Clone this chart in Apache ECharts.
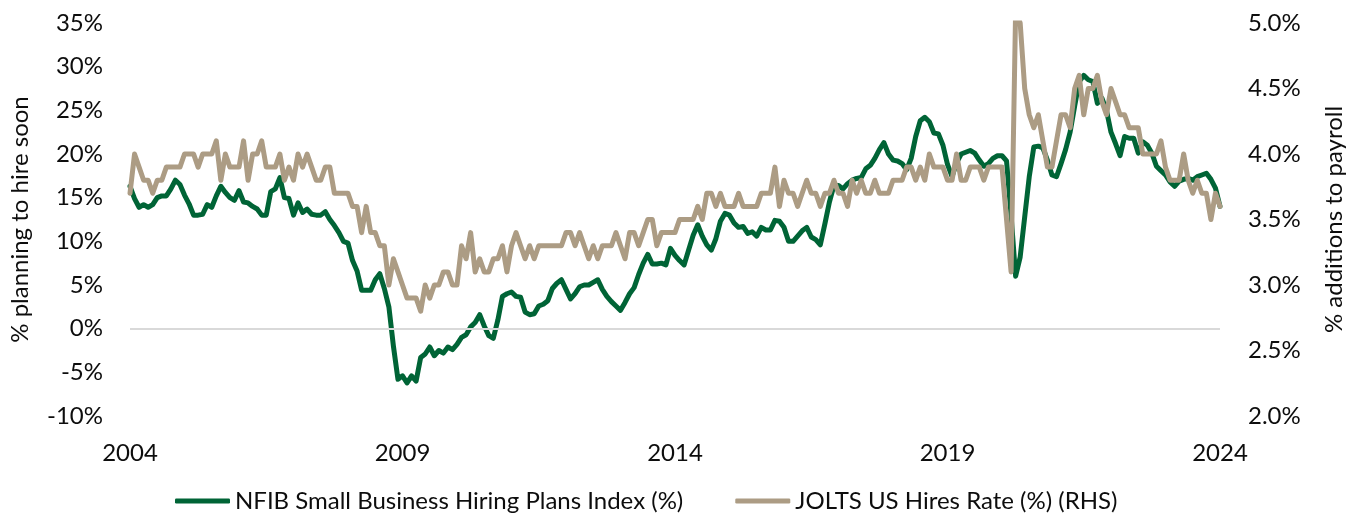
<!DOCTYPE html>
<html><head><meta charset="utf-8">
<script src="https://cdn.jsdelivr.net/npm/echarts@6/dist/echarts.min.js"></script>
<style>html,body{margin:0;padding:0;background:#fff}#chart{width:1354px;height:519px}</style>
</head><body><div id="chart"></div>
<script>
// Monthly categories Jan 2004 .. Jan 2024
const months = [];
for (let y = 2004; y <= 2024; y++) {
  for (let m = 1; m <= 12; m++) {
    if (y === 2024 && m > 1) break;
    months.push(y + '-' + String(m).padStart(2, '0'));
  }
}
const yearTicks = ['2004', '2009', '2014', '2019', '2024'];
const seriesNames = ['NFIB Small Business Hiring Plans Index (%)', 'JOLTS US Hires Rate (%) (RHS)'];

// NFIB hiring plans (%), left axis
const nfibHiringPlans = [
 16.3,14.9,13.9,14.2,13.9,14.2,15.0,15.2,15.2,16.0,17.0,16.5,
 15.3,14.3,13.0,13.0,13.1,14.2,13.9,15.2,16.3,15.6,15.0,14.7,
 15.8,14.5,14.4,14.0,13.7,13.0,13.0,15.7,16.0,17.3,15.0,14.9,
 13.0,14.4,13.3,13.7,13.1,13.0,13.0,13.4,12.5,11.8,11.0,10.0,
 9.8,7.8,6.6,4.4,4.4,4.4,5.6,6.3,4.6,2.5,-2.0,-5.8,
 -5.4,-6.2,-5.4,-6.0,-3.3,-2.9,-2.1,-3.1,-2.5,-2.8,-2.1,-2.4,
 -1.8,-1.0,-0.7,0.2,0.7,1.6,0.3,-0.8,-1.1,1.0,3.7,4.0,
 4.2,3.7,3.6,1.9,1.6,1.7,2.6,2.8,3.2,4.6,5.2,5.6,
 4.5,3.4,4.0,4.8,5.0,5.0,5.3,5.6,4.5,3.7,3.1,2.6,
 2.1,3.0,4.0,4.7,6.2,7.5,8.5,7.4,7.4,7.5,7.3,9.2,
 8.4,7.8,7.3,9.0,10.7,11.9,10.6,9.6,9.0,10.3,12.3,13.2,
 13.0,12.1,11.6,11.7,10.9,11.1,10.6,11.6,11.3,11.3,12.4,12.3,
 11.6,10.0,10.0,10.6,11.2,11.6,10.5,10.2,9.6,12.0,14.5,16.4,
 16.4,16.0,16.6,17.0,17.2,17.3,18.3,18.7,19.5,20.5,21.3,20.0,
 19.3,19.2,18.9,18.2,19.5,22.0,23.8,24.2,23.7,22.4,22.3,21.0,
 18.8,17.4,19.0,20.0,20.2,20.4,20.1,19.3,18.6,18.9,19.5,19.8,
 19.8,19.2,13.0,6.0,8.2,12.8,17.4,20.8,20.9,20.7,19.3,17.6,
 17.4,18.9,20.5,22.5,25.5,28.3,29.0,28.5,28.3,25.8,26.4,25.0,
 22.5,21.2,19.8,22.0,21.8,21.8,20.1,21.4,21.0,20.1,18.6,18.1,
 17.6,16.8,16.3,16.9,17.1,17.2,17.0,17.4,17.6,17.8,17.1,16.1,
 14.0
];

// JOLTS hires rate (%), right axis
const joltsHiresRate = [
 3.7,4.0,3.9,3.8,3.8,3.7,3.8,3.8,3.9,3.9,3.9,3.9,
 4.0,4.0,4.0,3.9,4.0,4.0,4.0,4.1,3.8,4.0,3.9,3.9,
 3.9,4.1,3.8,4.0,4.0,4.1,3.9,3.9,3.9,4.0,3.8,3.9,
 3.8,4.0,3.9,4.0,3.9,3.8,3.8,3.9,3.9,3.7,3.7,3.7,
 3.7,3.6,3.6,3.4,3.6,3.4,3.4,3.3,3.3,3.0,3.2,3.1,
 3.0,2.9,2.9,2.9,2.8,3.0,2.9,3.0,3.0,3.1,3.1,3.0,
 3.0,3.3,3.2,3.4,3.1,3.2,3.1,3.1,3.2,3.2,3.3,3.1,
 3.3,3.4,3.3,3.2,3.3,3.2,3.3,3.3,3.3,3.3,3.3,3.3,
 3.4,3.4,3.3,3.4,3.3,3.2,3.3,3.2,3.3,3.3,3.3,3.4,
 3.3,3.2,3.4,3.4,3.3,3.4,3.5,3.5,3.3,3.4,3.4,3.4,
 3.4,3.5,3.5,3.5,3.5,3.6,3.5,3.7,3.7,3.6,3.7,3.6,
 3.6,3.6,3.7,3.6,3.6,3.6,3.6,3.7,3.7,3.7,3.9,3.6,
 3.8,3.7,3.7,3.6,3.7,3.8,3.7,3.7,3.6,3.7,3.7,3.8,
 3.7,3.7,3.6,3.8,3.7,3.8,3.7,3.7,3.8,3.7,3.7,3.7,
 3.8,3.8,3.8,3.9,3.9,3.8,3.9,3.8,4.0,3.9,3.9,3.9,
 3.8,3.8,4.0,3.8,3.8,3.9,3.9,3.9,3.8,3.9,3.9,3.9,
 3.9,3.5,3.1,5.1,5.0,4.5,4.3,4.2,4.3,4.1,3.9,3.9,
 4.1,4.3,4.3,4.2,4.5,4.6,4.3,4.5,4.5,4.6,4.4,4.3,
 4.5,4.4,4.3,4.3,4.2,4.2,4.2,4.0,4.0,4.0,4.0,4.1,
 3.9,3.8,3.8,3.8,4.0,3.8,3.7,3.8,3.7,3.7,3.5,3.7,
 3.6
];

const FONT = 'Lato';
const TXT = '#0d0d0d';
const GREEN = '#006436';
const TAN = '#ac9c84';
const FS = 24;

const chart = echarts.init(document.getElementById('chart'), null, {renderer: 'canvas'});
chart.setOption({
  animation: false,
  backgroundColor: '#ffffff',
  textStyle: {fontFamily: FONT, color: TXT},
  grid: {left: 122, right: 132, top: 23, bottom: 103, containLabel: false},
  legend: {
    left: 170, top: 484,
    itemWidth: 55, itemHeight: 5, itemGap: 52,
    icon: 'roundRect',
    textStyle: {fontFamily: FONT, fontSize: FS, color: TXT},
    data: [
      {name: seriesNames[0], itemStyle: {color: GREEN}},
      {name: seriesNames[1], itemStyle: {color: TAN}}
    ]
  },
  xAxis: {
    type: 'category',
    data: months,
    boundaryGap: false,
    axisLine: {show: false},
    axisTick: {show: false},
    splitLine: {show: false},
    axisLabel: {
      interval: function (index, value) {
        return value.endsWith('-01') && yearTicks.indexOf(value.slice(0, 4)) >= 0;
      },
      formatter: function (value) { return value.slice(0, 4); },
      fontFamily: FONT, fontSize: FS, color: TXT, margin: 25
    }
  },
  yAxis: [
    {
      type: 'value', min: -10, max: 35, interval: 5,
      name: '% planning to hire soon', nameLocation: 'middle', nameGap: 98,
      nameTextStyle: {fontFamily: FONT, fontSize: FS, color: TXT},
      axisLine: {show: false}, axisTick: {show: false}, splitLine: {show: false},
      axisLabel: {formatter: '{value}%', fontFamily: FONT, fontSize: FS, color: TXT, margin: 27}
    },
    {
      type: 'value', min: 2.0, max: 5.0, interval: 0.5,
      name: '% additions to payroll', nameLocation: 'middle', nameGap: 102,
      nameTextStyle: {fontFamily: FONT, fontSize: FS, color: TXT},
      axisLine: {show: false}, axisTick: {show: false}, splitLine: {show: false},
      axisLabel: {formatter: function (v) { return v.toFixed(1) + '%'; }, fontFamily: FONT, fontSize: FS, color: TXT, margin: 28}
    }
  ],
  series: [
    {
      name: seriesNames[0], type: 'line', yAxisIndex: 0,
      data: nfibHiringPlans, symbol: 'none', smooth: false,
      lineStyle: {color: GREEN, width: 5, join: 'round', cap: 'round'},
      itemStyle: {color: GREEN},
      markLine: {
        silent: true, symbol: ['none', 'none'], label: {show: false},
        lineStyle: {color: '#d9d9d9', width: 2, type: 'solid'},
        data: [{yAxis: 0}]
      },
      z: 2
    },
    {
      name: seriesNames[1], type: 'line', yAxisIndex: 1,
      data: joltsHiresRate, symbol: 'none', smooth: false, clip: true,
      lineStyle: {color: TAN, width: 5, join: 'round', cap: 'round'},
      itemStyle: {color: TAN},
      z: 3
    }
  ]
});
</script>
</body></html>
